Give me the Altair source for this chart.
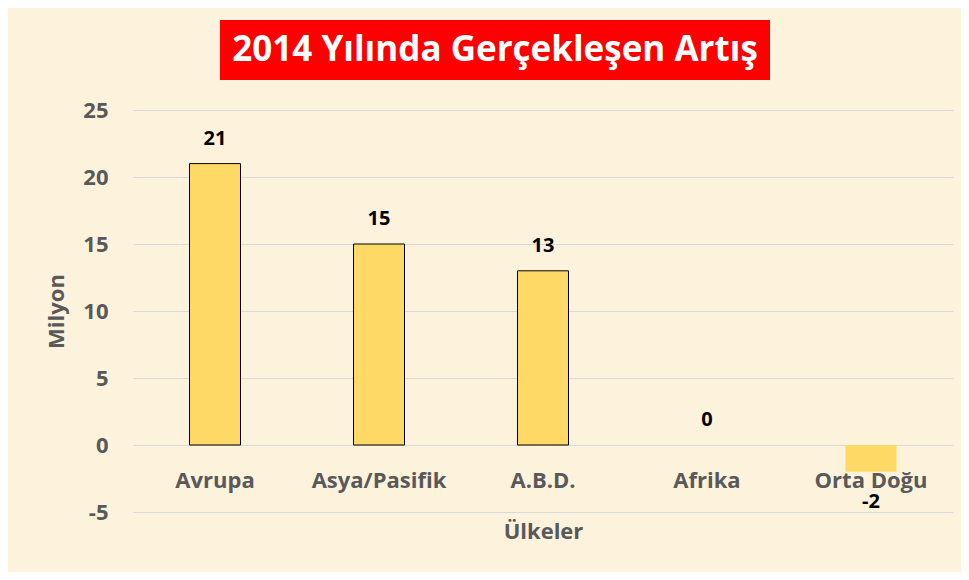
import altair as alt
import pandas as pd

categories = ["Avrupa", "Asya/Pasifik", "A.B.D.", "Afrika", "Orta Doğu"]
values = [21, 15, 13, 0, -2]
y_ticks = [-5, 0, 5, 10, 15, 20, 25]
title_text = "2014 Yılında Gerçekleşen Artış"
x_title = "Ülkeler"
y_title = "Milyon"

df = pd.DataFrame({"cat": categories, "v": values})
tdf = pd.DataFrame({"t": [title_text]})

FONT = "Open Sans"
GREY = "#595959"
BG = "#FDF3DC"

x_enc = alt.X(
    "cat:N",
    sort=categories,
    scale=alt.Scale(paddingInner=0.2, paddingOuter=0.1),
    axis=alt.Axis(
        title=x_title,
        labelAngle=0,
        offset=-67,
        domain=False,
        ticks=False,
        tickSize=0,
        grid=False,
        labelPadding=25,
        titlePadding=30,
    ),
)
y_enc = alt.Y(
    "v:Q",
    scale=alt.Scale(domain=[-5, 25], nice=False, zero=False),
    axis=alt.Axis(
        values=y_ticks,
        title=y_title,
        grid=True,
        domain=False,
        ticks=False,
        tickSize=0,
        labelPadding=25,
        titlePadding=14,
        labelExpr="'' + datum.value",
    ),
)

base = alt.Chart(df).encode(x=x_enc, y=y_enc)

bars = base.mark_bar(size=51, color="#FFD966", strokeWidth=1).encode(
    stroke=alt.condition("datum.v > 0", alt.value("#000000"), alt.value("transparent"))
)

lab_pos = base.transform_filter("datum.v >= 0").transform_calculate(
    lbl="'' + datum.v"
).mark_text(
    dy=-25, font=FONT, fontSize=20, fontWeight="bold", color="#000000", baseline="middle"
).encode(text="lbl:N")

lab_neg = base.transform_filter("datum.v < 0").transform_calculate(
    lbl="'' + datum.v"
).mark_text(
    dy=30, font=FONT, fontSize=20, fontWeight="bold", color="#000000", baseline="middle"
).encode(text="lbl:N")

title_box = alt.Chart(tdf).mark_rect(color="#FF0000").encode(
    x=alt.value(87), x2=alt.value(637), y=alt.value(-90), y2=alt.value(-30)
)
title_txt = alt.Chart(tdf).mark_text(
    font=FONT, fontSize=35, fontWeight="bold", color="#FFFFFF", align="center", baseline="middle"
).encode(x=alt.value(362), y=alt.value(-60), text="t:N")

chart = (
    alt.layer(bars, lab_pos, lab_neg, title_box, title_txt)
    .properties(
        width=820,
        height=402,
        autosize=alt.AutoSizeParams(type="none"),
        padding={"left": 125, "top": 102, "right": 8, "bottom": 60},
    )
    .configure(background=BG, font=FONT)
    .configure_view(strokeWidth=0)
    .configure_axis(
        labelColor=GREY,
        titleColor=GREY,
        labelFont=FONT,
        titleFont=FONT,
        labelFontSize=22,
        titleFontSize=22,
        labelFontWeight="bold",
        titleFontWeight="bold",
        gridColor="#D9D9D9",
        gridWidth=1,
    )
)

chart.save("out.html", embed_options={"renderer": "svg", "actions": False})
